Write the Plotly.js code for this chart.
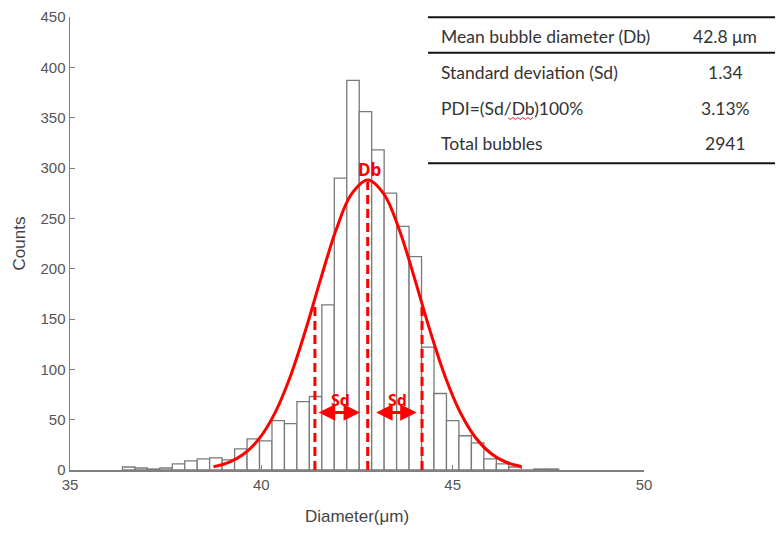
<!DOCTYPE html>
<html>
<head>
<meta charset="utf-8">
<script src="https://cdn.plot.ly/plotly-3.0.1.min.js"></script>
<style>html,body{margin:0;padding:0;background:#fff;}#chart{width:782px;height:535px;}</style>
</head>
<body>
<div id="chart"></div>
<script>
// ---- data ----
const binStart = 36.37;       // left edge of first bin (µm)
const binWidth = 0.3257;      // bin width (µm)
const counts = [3,2,1,2,6,9,11,12,10,21,31,29,49,46,68,73,164,290,387,356,318,275,242,212,122,76,49,34,27,11,6,3,0,1,1];

// fitted normal curve
const fitX = [38.75,39.15,39.55,39.95,40.35,40.75,41.15,41.55,41.95,42.35,42.78,43.2,43.6,44.0,44.4,44.8,45.2,45.6,46.0,46.4,46.8];
const fitY = [3.2,7.5,16.1,31.5,56.3,92.2,138.2,189.6,238.1,273.7,288,274.3,239.2,190.9,139.4,93.2,57.1,32.0,16.4,7.7,3.3];

// dashed markers: Db - Sd, Db, Db + Sd  (x position, height where they meet the curve)
const markerX = [41.4, 42.78, 44.2];
const markerTop = [167, 286, 165];
const markerLabels = ["Sd", "Db", "Sd"];

// summary table
const tableLabels = ["Mean bubble diameter (Db)", "Standard deviation (Sd)", "PDI=(Sd/Db)100%", "Total bubbles"];
const tableValues = ["42.8 μm", "1.34", "3.13%", "2941"];

const xTicks = [35, 40, 45, 50];

// ---- build ----
const binCenters = counts.map((_, i) => binStart + binWidth * (i + 0.5));
const red = '#ff0000';

const traces = [];
traces.push({
  type: 'bar', x: binCenters, y: counts, width: binWidth,
  marker: {color: '#ffffff', line: {color: '#7a7a7a', width: 1.3}},
  hoverinfo: 'x+y'
});
markerX.forEach((mx, i) => {
  traces.push({
    type: 'scatter', mode: 'lines', x: [mx, mx], y: [0, markerTop[i]],
    line: {color: red, width: 3, dash: '9px,5px'}
  });
});
traces.push({
  type: 'scatter', mode: 'lines', x: fitX, y: fitY,
  line: {color: red, width: 3, shape: 'spline', smoothing: 1}
});

const W = 574, H = 453; // plot area px
const px = p => (p - 70) / W;
const py = p => (470 - p) / H;

const annotations = [];
// Db label
annotations.push({x: markerX[1] + 0.04, y: 299, xref: 'x', yref: 'y', text: '<b>' + markerLabels[1] + '</b>',
  showarrow: false, font: {family: 'Open Sans, Arial', size: 17, color: red}});
// Sd labels
annotations.push({x: 42.08, y: 70, xref: 'x', yref: 'y', text: '<b>' + markerLabels[0] + '</b>',
  showarrow: false, font: {family: 'Open Sans, Arial', size: 16, color: red}});
annotations.push({x: 43.57, y: 70, xref: 'x', yref: 'y', text: '<b>' + markerLabels[2] + '</b>',
  showarrow: false, font: {family: 'Open Sans, Arial', size: 16, color: red}});
// double arrows
const arrowDefs = [[markerX[0] + 0.06, markerX[1] - 0.2], [markerX[1] + 0.18, markerX[2] - 0.14]];
arrowDefs.forEach(([a, b]) => {
  annotations.push({x: b, y: 57, ax: a, ay: 57, xref: 'x', yref: 'y', axref: 'x', ayref: 'y',
    text: '', showarrow: true, arrowside: 'end+start', arrowhead: 2, arrowsize: 1.1, arrowwidth: 3, arrowcolor: red});
});
// table text
const rowY = [36, 72.7, 108.3, 143.3];
tableLabels.forEach((t, i) => {
  annotations.push({x: px(439), y: py(rowY[i]), xref: 'paper', yref: 'paper', xanchor: 'left', yanchor: 'middle',
    text: t, showarrow: false, font: {family: 'Lato, Open Sans', size: 17.5, color: '#333333'}});
  annotations.push({x: px(725), y: py(rowY[i]), xref: 'paper', yref: 'paper', xanchor: 'center', yanchor: 'middle',
    text: tableValues[i], showarrow: false, font: {family: 'Lato, Open Sans', size: 17.5, color: '#333333'}});
});

const shapes = [17.3, 52.7, 163.3].map(yy => ({
  type: 'line', xref: 'paper', yref: 'paper', x0: px(428), x1: px(775), y0: py(yy), y1: py(yy),
  line: {color: '#111111', width: 2}
}));
// spell-check squiggle under "Db" in the PDI row
let sq = 'M ' + px(508) + ' ' + py(118);
for (let k = 1; k <= 10; k++) {
  sq += ' L ' + px(508 + k * 2.5) + ' ' + py(118 + (k % 2 ? 1.5 : -0.5));
}
shapes.push({type: 'path', xref: 'paper', yref: 'paper', path: sq, line: {color: '#e03030', width: 1}});

const axisFont = {family: 'Liberation Sans, Arial', size: 15, color: '#555555'};
const layout = {
  width: 782, height: 535,
  margin: {l: 70, r: 138, t: 17, b: 65},
  paper_bgcolor: '#ffffff', plot_bgcolor: '#ffffff',
  showlegend: false, bargap: 0,
  xaxis: {range: [35, 50], tickvals: xTicks, ticktext: xTicks.map(String), ticks: 'inside', ticklen: 5,
    tickcolor: '#808080', showline: true, linecolor: '#808080', linewidth: 1.5, showgrid: false, zeroline: false,
    tickfont: axisFont, title: {text: 'Diameter(μm)', font: {family: 'Liberation Sans, Arial', size: 17, color: '#444444'}, standoff: 18}},
  yaxis: {range: [0, 450], dtick: 50, ticks: 'inside', ticklen: 5, tickcolor: '#808080', showline: true,
    linecolor: '#808080', linewidth: 1.5, showgrid: false, zeroline: false, tickfont: axisFont,
    title: {text: 'Counts', font: {family: 'Liberation Sans, Arial', size: 17, color: '#444444'}, standoff: 10}},
  annotations: annotations, shapes: shapes
};

Plotly.newPlot('chart', traces, layout, {displayModeBar: false, staticPlot: true});
</script>
</body>
</html>
